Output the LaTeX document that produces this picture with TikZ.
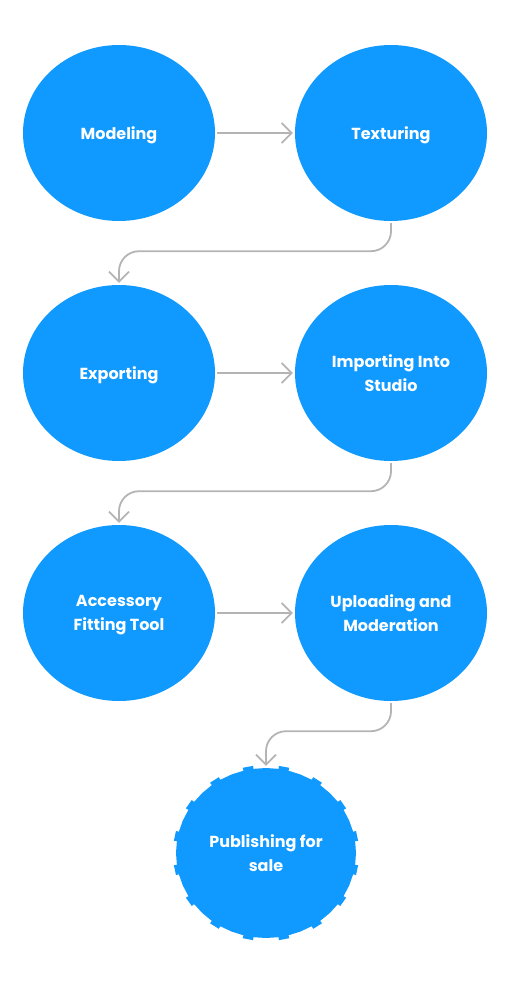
\documentclass[tikz,border=0pt]{standalone}
\usepackage{fontspec}
\newfontfamily\stagefont{Poppins}
\usetikzlibrary{arrows.meta,positioning,shapes.geometric,backgrounds}
\definecolor{stageblue}{RGB}{16,153,255}
\definecolor{flowgrey}{RGB}{180,180,180}

\begin{document}
\begin{tikzpicture}[
    x=1pt, y=1pt,
    node distance=272pt,
    >={Straight Barb[length=10pt,width=20pt]},
    font=\stagefont\bfseries\fontsize{16}{24}\selectfont,
    stage/.style={
		ellipse,
		fill=stageblue,
		text=white,
		align=center,
		text depth=0pt,
		inner sep=0pt,
		minimum width=192pt,
		minimum height=176pt
	},
	flow/.style={
		draw=flowgrey,
		line width=1.8pt,
		->,
		rounded corners=20pt,
		shorten <=2pt,
		shorten >=2pt
	}
  ]
  \useasboundingbox (0,0) rectangle (510,-990);
    % We start by placing the blocks

  \node [stage] (modeling) at (119,-133) {Modeling};
  \node [stage, right of=modeling] (texturing) {Texturing};

  \node [stage, below of=modeling, yshift=32pt] (exporting) {Exporting};
  \node [stage, right of=exporting] (importing) {Importing Into\\Studio};

  \node [stage, below of=exporting, yshift=32pt] (fitting) {Accessory\\Fitting Tool};
  \node [stage, right of=fitting] (uploading) {Uploading and\\Moderation};

  \node [stage, fill=none, minimum width=180pt, minimum height=170pt, below of=fitting, xshift=147pt, yshift=32pt] (publishing) {Publishing for\\sale};
  % the notched outline of the last block
  \begin{scope}[on background layer]
  \fill [stageblue, shift={(publishing.center)}] (0:90 and 85)
    \foreach \a in {0,22.5,...,337.5} {
      -- (\a:90 and 85)
      -- ({\a+8}:90 and 85) -- ({\a+8}:93 and 88)
      -- ({\a+14.5}:93 and 88) -- ({\a+14.5}:90 and 85)
    } -- cycle;
  \end{scope}

 \draw [flow] (modeling) -- (texturing);
 \draw [flow] (texturing.south) -- ++(0,-30) -| (exporting.north);
 \draw [flow] (exporting) -- (importing);
 \draw [flow] (importing.south) -- ++(0,-30) -| (fitting.north);
 \draw [flow] (fitting) -- (uploading);
 \draw [flow] (uploading.south) -- ++(0,-30) -| (publishing.north);

\end{tikzpicture}
\end{document}
